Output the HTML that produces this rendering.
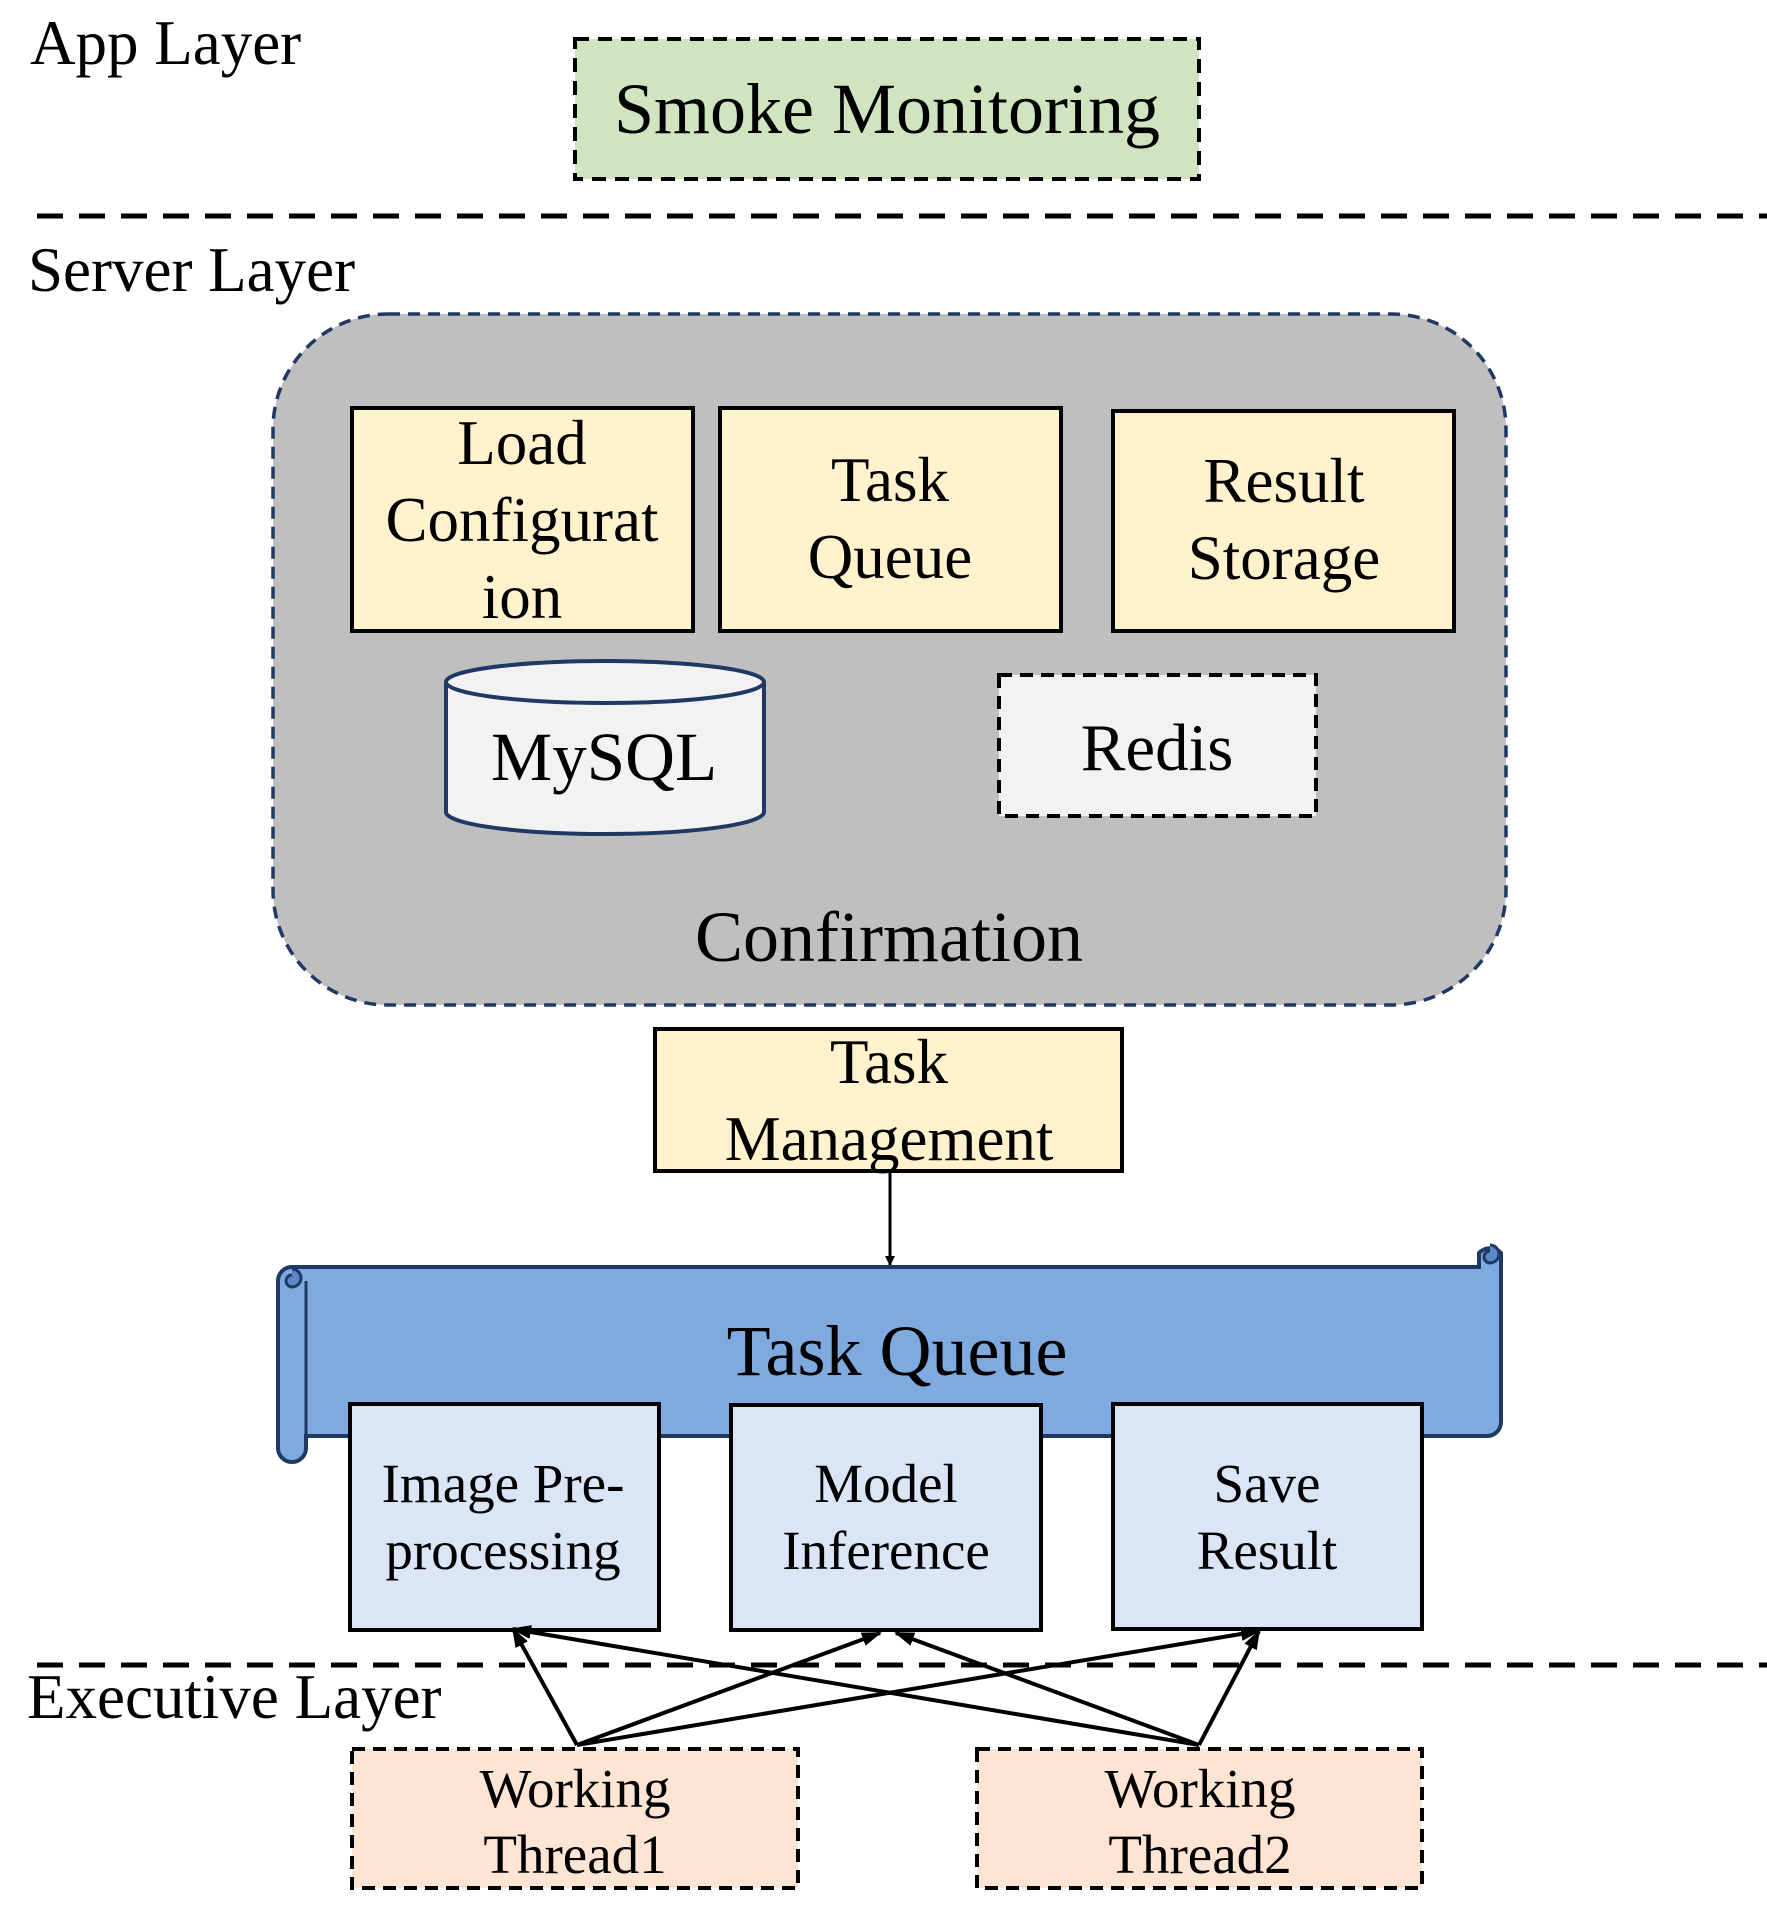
<!DOCTYPE html>
<html><head><meta charset="utf-8"><style>
html,body{margin:0;padding:0;background:#fff}
svg{display:block}
text{font-family:"Liberation Serif",serif;fill:#000}
</style></head><body>
<svg width="1767" height="1919" viewBox="0 0 1767 1919" xmlns="http://www.w3.org/2000/svg">
<defs>
<marker id="ah" markerWidth="10" markerHeight="10" refX="9" refY="5" orient="auto" markerUnits="userSpaceOnUse" viewBox="0 0 10 10">
<path d="M0,0 L10,5 L0,10 z" fill="#000"/></marker>
<marker id="ah2" markerWidth="20" markerHeight="20" refX="18" refY="10" orient="auto" markerUnits="userSpaceOnUse" viewBox="0 0 20 20">
<path d="M0,3 L20,10 L0,17 z" fill="#000"/></marker>
</defs>
<text x="30" y="64" font-size="63">App Layer</text>
<rect x="575" y="39" width="624" height="140" fill="#d0e4c0" stroke="#000" stroke-width="4" stroke-dasharray="14,9"/>
<text x="887" y="133" font-size="72" text-anchor="middle">Smoke Monitoring</text>
<line x1="37" y1="216" x2="1767" y2="216" stroke="#000" stroke-width="5" stroke-dasharray="26,16"/>
<text x="28" y="291" font-size="63">Server Layer</text>
<rect x="273" y="314" width="1233" height="691" rx="115" fill="#bfbfbf" stroke="#1f3864" stroke-width="3.5" stroke-dasharray="12,8"/>
<rect x="352" y="408" width="341" height="223" fill="#fff2cc" stroke="#000" stroke-width="4"/>
<text font-size="63" text-anchor="middle"><tspan x="522" y="464">Load</tspan><tspan x="522" y="541">Configurat</tspan><tspan x="522" y="618">ion</tspan></text>
<rect x="720" y="408" width="341" height="223" fill="#fff2cc" stroke="#000" stroke-width="4"/>
<text font-size="63" text-anchor="middle"><tspan x="890" y="501">Task</tspan><tspan x="890" y="578">Queue</tspan></text>
<rect x="1113" y="411" width="341" height="220" fill="#fff2cc" stroke="#000" stroke-width="4"/>
<text font-size="63" text-anchor="middle"><tspan x="1284" y="502">Result</tspan><tspan x="1284" y="579">Storage</tspan></text>
<path d="M446,682 L446,812 A159,22 0 0 0 764,812 L764,682" fill="#f2f2f2" stroke="#1f3864" stroke-width="4"/>
<ellipse cx="605" cy="682" rx="159" ry="21" fill="#f2f2f2" stroke="#1f3864" stroke-width="4"/>
<text x="604" y="780" font-size="69" text-anchor="middle">MySQL</text>
<rect x="999" y="675" width="317" height="141" fill="#f2f2f2" stroke="#000" stroke-width="4" stroke-dasharray="13,8"/>
<text x="1157" y="770" font-size="67" text-anchor="middle">Redis</text>
<text x="889" y="961" font-size="72" text-anchor="middle">Confirmation</text>
<rect x="655" y="1029" width="467" height="142" fill="#fff2cc" stroke="#000" stroke-width="4"/>
<text font-size="63" text-anchor="middle"><tspan x="889" y="1083">Task</tspan><tspan x="889" y="1160">Management</tspan></text>
<line x1="890" y1="1171" x2="890" y2="1265" stroke="#000" stroke-width="3" marker-end="url(#ah)"/>
<path d="M292,1267 L1479,1267 L1479,1253 A15,15 0 0 1 1501,1253 L1501,1422 A14,14 0 0 1 1487,1436 L306,1436 L306,1448 A14,14 0 0 1 278,1448 L278,1281 A14,14 0 0 1 292,1267 Z" fill="#7faadf" stroke="#1f3864" stroke-width="4"/>
<path d="M306,1281 L306,1436" stroke="#1f3864" stroke-width="3" fill="none"/>
<path d="M292,1269 A9,9 0 0 1 292,1287 A6,6 0 0 1 292,1275" stroke="#1f3864" stroke-width="3" fill="#5b87c5"/>
<path d="M1490,1245 A9,9 0 0 1 1490,1263 A6,6 0 0 1 1490,1251" stroke="#1f3864" stroke-width="3" fill="#5b87c5"/>
<text x="897" y="1375" font-size="72" text-anchor="middle">Task Queue</text>
<rect x="350" y="1404" width="309" height="226" fill="#dae5f5" stroke="#000" stroke-width="4"/>
<text font-size="55" text-anchor="middle"><tspan x="503" y="1502">Image Pre-</tspan><tspan x="503" y="1569">processing</tspan></text>
<rect x="731" y="1405" width="310" height="225" fill="#dae5f5" stroke="#000" stroke-width="4"/>
<text font-size="55" text-anchor="middle"><tspan x="886" y="1502">Model</tspan><tspan x="886" y="1569">Inference</tspan></text>
<rect x="1113" y="1404" width="309" height="225" fill="#dae5f5" stroke="#000" stroke-width="4"/>
<text font-size="55" text-anchor="middle"><tspan x="1267" y="1502">Save</tspan><tspan x="1267" y="1569">Result</tspan></text>
<line x1="37" y1="1665" x2="1767" y2="1665" stroke="#000" stroke-width="5" stroke-dasharray="26,16"/>
<text x="27" y="1718" font-size="63">Executive Layer</text>
<g stroke="#000" stroke-width="4" fill="none">
<line x1="577" y1="1745" x2="513" y2="1629" marker-end="url(#ah2)"/>
<line x1="577" y1="1745" x2="880" y2="1633" marker-end="url(#ah2)"/>
<line x1="577" y1="1745" x2="1259" y2="1631" marker-end="url(#ah2)"/>
<line x1="1199" y1="1745" x2="513" y2="1629" marker-end="url(#ah2)"/>
<line x1="1199" y1="1745" x2="896" y2="1633" marker-end="url(#ah2)"/>
<line x1="1199" y1="1745" x2="1259" y2="1631" marker-end="url(#ah2)"/>
</g>
<rect x="352" y="1749" width="446" height="139" fill="#fde4d3" stroke="#000" stroke-width="4" stroke-dasharray="13,8"/>
<text font-size="55" text-anchor="middle"><tspan x="575" y="1807">Working</tspan><tspan x="575" y="1873">Thread1</tspan></text>
<rect x="977" y="1749" width="445" height="139" fill="#fde4d3" stroke="#000" stroke-width="4" stroke-dasharray="13,8"/>
<text font-size="55" text-anchor="middle"><tspan x="1200" y="1807">Working</tspan><tspan x="1200" y="1873">Thread2</tspan></text>
</svg>
</body></html>
